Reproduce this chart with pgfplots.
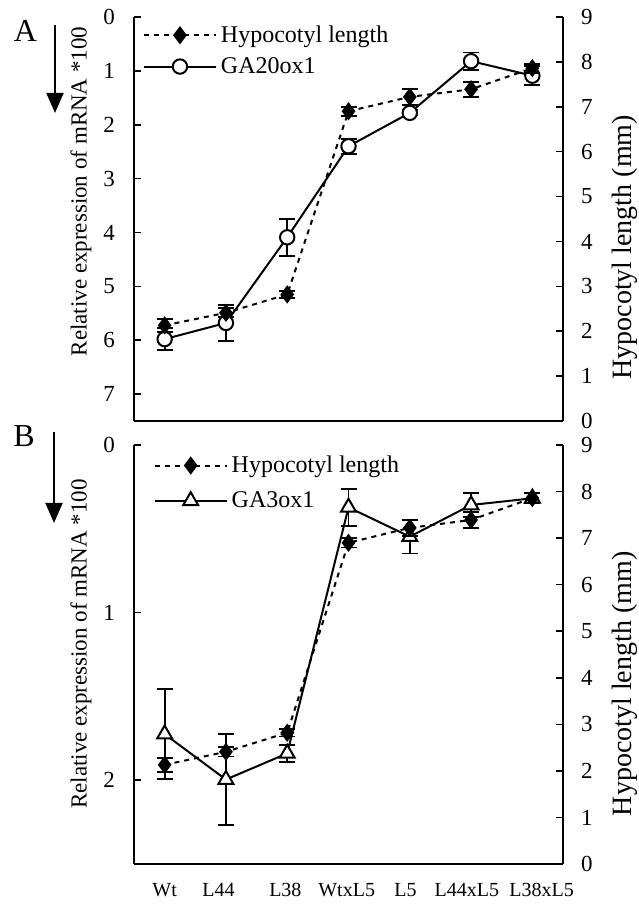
\documentclass[border=0pt]{standalone}
\usepackage{fontspec}
\setmainfont{Liberation Serif}
\usepackage{pgfplots}
\pgfplotsset{compat=1.18}
\usetikzlibrary{arrows.meta}

\pgfplotstableread{
x hyp hype ga20 ga20e ga3 ga3e
0 2.13 0.15 5.98 0.20 1.725 0.27
1 2.41 0.10 5.68 0.33 1.996 0.27
2 2.82 0.08 4.09 0.34 1.84  0.05
3 6.90 0.10 2.40 0.14 0.372 0.11
4 7.22 0.18 1.78 0.05 0.547 0.10
5 7.39 0.17 0.82 0.16 0.358 0.07
6 7.86 0.10 1.09 0.18 0.318 0.03
}\data

\pgfplotsset{
  base/.style={
    scale only axis, width=214.5pt, xmin=-0.5, xmax=6.5,
    tick style={black, line width=0.8pt}, major tick length=3.5pt, tick align=inside,
    axis line style={line width=0.9pt},
    /pgf/number format/assume math mode=true,
    yticklabel style={font=\fontsize{11.5}{13}\selectfont},
    xticklabel style={font=\fontsize{10}{12}\selectfont},
    clip=false,
  },
  leftax/.style={base, axis x line*=bottom, axis y line*=left,
    yticklabel style={xshift=-6pt},
    ylabel style={font=\fontsize{11.5}{13}\selectfont, anchor=center}},
  rightax/.style={base, axis x line=none, axis y line*=right,
    yticklabel style={xshift=5.5pt},
    ymin=0, ymax=9, ytick={0,1,...,9},
    ylabel={Hypocotyl length (mm)},
    ylabel style={font=\fontsize{14}{16}\selectfont, anchor=center}},
  errs/.style={
    error bars/y dir=both, error bars/y explicit,
    error bars/error bar style={solid, line width=0.9pt, black},
    error bars/error mark options={rotate=90, mark size=4pt, line width=0.9pt, solid, black},
  },
  hyp/.style={black, line width=1pt, dash pattern=on 2.5pt off 2.5pt,
    mark=diamond*, mark size=3.75pt, mark options={solid, fill=black}, errs},
  gaA/.style={black, line width=1pt, solid, mark=*, mark size=3.6pt,
    mark options={solid, fill=white}, errs},
  gaB/.style={black, line width=1pt, solid, mark=triangle*, mark size=4.3pt,
    mark options={solid, fill=white}, errs},
  leg/.style={legend style={draw=none, fill=none, inner sep=0pt,
      font=\fontsize{12}{14}\selectfont, row sep=2pt},
    legend cell align=left,
    legend image code/.code={\draw[mark repeat=2, mark phase=2]
      plot coordinates {(0pt,0pt) (18pt,0pt) (36pt,0pt)};}},
}

\begin{document}
\begin{tikzpicture}
\useasboundingbox (0,0) rectangle (319pt,454pt);

% Panel labels and arrows
\node[font=\fontsize{16}{18}\selectfont] at (12.75pt,438.5pt) {A};
\draw[line width=1pt, -{Triangle[length=10pt,width=8.5pt]}] (27.5pt,441.5pt) -- (27.5pt,397.5pt);
\node[font=\fontsize{16}{18}\selectfont] at (12pt,236pt) {B};
\draw[line width=1pt, -{Triangle[length=10pt,width=8.5pt]}] (27pt,238pt) -- (27pt,192.5pt);

% ---------- Panel A ----------
\begin{axis}[leftax, at={(67pt,243.5pt)}, anchor=south west, height=202pt,
  xtick=\empty,
  ymin=0, ymax=7.5, y dir=reverse, ytick={0,1,2,3,4,5,6,7},
  ylabel={Relative expression of mRNA *100},
  ylabel style={at={(axis description cs:-0.1235,0.568)}}]
  \addplot[gaA] table[x=x, y=ga20, y error=ga20e] {\data};
\end{axis}
\begin{axis}[rightax, leg, at={(67pt,243.5pt)}, anchor=south west, height=202pt,
  ylabel style={at={(axis description cs:1.143,0.43)}},
  legend style={at={(0.02,0.99)}, anchor=north west}]
  \addplot[hyp] table[x=x, y=hyp, y error=hype] {\data};
  \addlegendentry{Hypocotyl length}
  \addlegendimage{gaA}
  \addlegendentry{GA20ox1}
\end{axis}

% ---------- Panel B ----------
\begin{axis}[leftax, at={(67pt,22pt)}, anchor=south west, height=209.5pt,
  xtick={0,0.88,1.97,2.97,3.93,4.93,6.15},
  xticklabels={Wt,L44,L38,WtxL5,L5,L44xL5,L38xL5},
  major x tick style={draw=none}, xticklabel style={yshift=-6pt},
  ymin=0, ymax=2.5, y dir=reverse, ytick={0,1,2},
  ylabel={Relative expression of mRNA *100},
  ylabel style={at={(axis description cs:-0.1235,0.525)}}]
  \addplot[gaB] table[x=x, y=ga3, y error=ga3e] {\data};
\end{axis}
\begin{axis}[rightax, leg, at={(67pt,22pt)}, anchor=south west, height=209.5pt,
  ylabel style={at={(axis description cs:1.143,0.43)}},
  legend style={at={(0.045,0.985)}, anchor=north west, row sep=4pt}]
  \addplot[hyp] table[x=x, y=hyp, y error=hype] {\data};
  \addlegendentry{Hypocotyl length}
  \addlegendimage{gaB}
  \addlegendentry{GA3ox1}
\end{axis}
\end{tikzpicture}
\end{document}
